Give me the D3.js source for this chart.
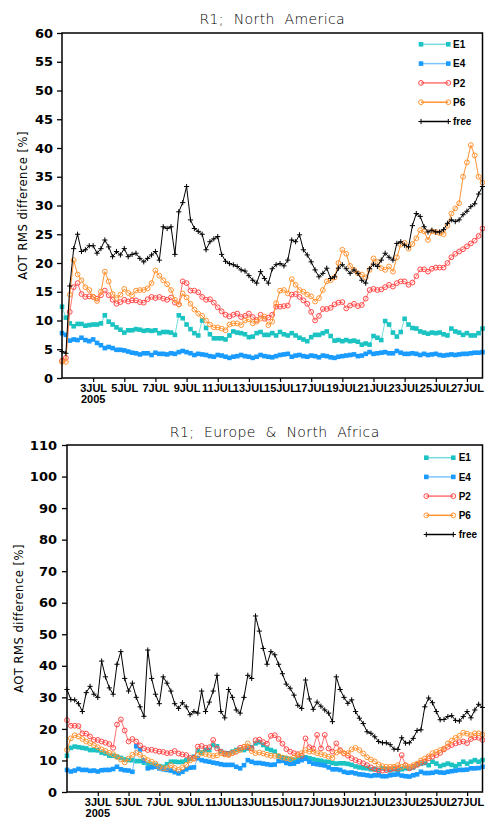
<!DOCTYPE html>
<html><head><meta charset="utf-8">
<script src="https://cdn.jsdelivr.net/npm/d3@7"></script>
<style>body{margin:0;background:#fff}svg{display:block}</style>
</head><body>
<svg id="c" width="485" height="820"></svg>
<script>
// ---------- DATA ----------
const startDateUTC = "2005-07-01T00:00:00Z";
const stepHours = 6;
const xTickDays = [3,5,7,9,11,13,15,17,19,21,23,25,27];
const xMonthLabel = "JUL";
const xYearLabel = "2005";
const seriesNames = ["E1","E4","P2","P6","free"];

const naTitle = "R1;  North  America";
const naYTicks = [0,5,10,15,20,25,30,35,40,45,50,55,60];
const naE1 = [12.4,10.5,9.5,9,9.4,9.4,9.1,9.2,9.3,9.3,
 9.5,10.9,9.8,9.3,8.8,8.4,7.9,8.3,8.3,8.5,
 8.4,8.2,8.3,8.2,8.3,7.8,8,8,7.9,7.5,
 10.9,10.4,9.3,8.5,7.8,7.4,10,8.7,7.6,6.9,
 6.9,6.9,6.7,7.4,8.1,7.9,7.8,7.6,7.1,7.2,
 7.8,8,7.5,7.5,7.8,7.4,8,7.6,7.4,7.8,
 7.4,7,6.7,6.4,7.1,7.5,7.5,7.8,8.1,7.3,
 6.5,6.6,6.4,6.6,6.4,6.5,6.3,5.8,6,5.8,
 7.3,7,6.6,9.9,9.3,7.9,7.2,8,10.3,9.3,
 8.7,8.6,8.1,7.9,7.7,7.9,7.8,7.9,7.6,7.4,
 8.6,8.1,7.9,7.5,7.8,7.4,7.4,7.8,8.6];
const naE4 = [7.8,7.5,6.5,6.7,6.6,7,6.6,6.4,6.7,6.1,
 5.7,5.2,5.4,5.2,4.9,4.9,4.8,4.6,4.4,4.3,
 4.1,4.3,4.3,4,4.4,4.2,4.2,4.1,4.3,4.2,
 4.5,4.7,4.5,4.3,4,4.2,4.1,4,3.8,3.7,
 4,3.9,3.7,3.5,3.7,3.8,4,3.8,3.7,3.5,
 3.7,4,3.8,3.7,3.6,3.8,4,4.1,4.2,3.7,
 3.9,4,3.8,3.7,3.9,3.8,3.6,3.9,3.8,3.6,
 3.5,3.7,3.8,3.9,4,4.1,3.8,3.9,4.2,4.5,
 4.2,4.3,4.4,4.5,4.3,4.3,4.7,4.4,4.2,4.2,
 4.3,4.2,4,4.2,4,4.1,4.2,4,3.9,4,
 4.1,4,4.1,4.2,4.2,4.3,4.4,4.4,4.5];
const naP2 = [3,3.5,11.5,15.8,16.5,14.6,14.1,14.2,14.1,13.8,
 14.4,15.2,14.4,13.6,12.9,13.2,13.6,13.3,13.5,13.5,
 13.2,13.1,13.7,14.1,13.9,14.1,13.8,13.6,14,13.1,
 12.8,16.8,16.5,15.2,15.2,14.9,14.1,13.6,13.7,13.1,
 12.3,11.6,11,10.7,11,11.2,10.6,10.8,11.2,10.6,
 10.1,11,10.3,10.5,11,12.4,12.4,12.5,12.6,14.5,
 14.6,14.1,13.5,12.9,11.5,10,10.8,12,12,12.2,
 12.8,13.1,13.2,12.1,12.6,12.9,12.5,12.7,13.8,15.3,
 15.5,15.3,15.4,15.8,16.2,15.9,16.5,16.8,16.8,16.2,
 16.6,17.7,18.9,18.9,18.5,19,19.2,19.2,19.2,20,
 21,21.6,22,22.4,22.9,23.4,23.9,24.7,26];
const naP6 = [2.8,2.8,14.5,20.5,18,17,15.8,15.3,14.1,13.4,
 15,18.5,16.8,14.6,13.9,14.5,15.5,14.8,14.4,15.2,
 15.3,15.3,15.6,16.5,18.7,17.8,17,16.3,15.3,13.6,
 12.8,14.7,14,12.9,11.9,11.2,10.8,10,9.3,8.8,
 8.8,8.6,8.3,9.3,9.5,9.5,9.2,10,10.2,9.5,
 9.8,10.3,10.7,9.2,9.8,13,15.2,15.3,14.7,17.2,
 16.2,15.3,15,14.5,14.2,13.3,13.9,15.3,16.8,17,
 17.5,20,22.3,21.6,19.5,18.8,18.2,18,17.5,18.8,
 20.8,20.2,19.1,18.8,19.4,18.5,21,23.2,23.5,22.5,
 23.3,24.3,25.7,25.5,24,25.5,25.4,25.2,25,26.5,
 28.6,29.5,30.4,35,37.5,40.5,38.7,35,34];
const naFree = [4.6,4.3,16,22.5,25,22,22.3,23,23,21.7,
 22.5,24,22.8,21.1,22,21.4,22.5,21.1,21.5,21.7,
 20.8,20.2,20.8,21.4,22,20.5,26.3,26,26.3,21.5,
 28.9,30.5,33.3,27.5,26,25.5,25,22.3,23.7,24.2,
 24.6,21.5,20.3,19.9,19.7,19.4,18.8,18.6,17.8,17,
 16.5,18.5,17.3,16.5,19,19.7,19.9,19.5,20.5,24,
 23.7,24.9,22.3,21.4,20.2,18.8,17.6,18.2,19.1,17.3,
 17.6,19.1,19.7,19,18.2,18.8,18.2,17,16.5,19,
 19.8,19.4,20.5,21.7,21,20.5,23.4,23.7,23.1,22.8,
 26.5,28.6,28.1,26.3,25.4,25.7,25.4,25.4,25.8,26.9,
 27.5,27.2,27.5,28.4,29,29.8,30.3,32,33.3];

const euTitle = "R1;  Europe  &  North  Africa";
const euYTicks = [0,10,20,30,40,50,60,70,80,90,100,110];
const euE1 = [11.5,14,14.4,14.2,14,13.8,13.3,13.3,13.2,12.5,
 12.2,11.5,11.5,11.2,10.8,10.3,10.1,10.1,9.8,9.8,
 9.3,8.9,8.7,8.6,8.2,8,8.8,9.6,9.6,9.5,
 9.6,10,10.5,11.2,13,12.5,13.3,13.3,14.9,14.5,
 12.9,12.3,12.3,12.8,13.3,13.5,13.3,13.8,14.2,15.4,
 15.8,14.9,13.8,13.3,12.8,11.4,11,10.7,10.4,10.1,
 10.4,10.7,11,10.7,10.4,10.1,9.9,9.6,9.5,9.2,
 9,9.1,9.1,8.9,8.6,8.1,7.8,7.6,7.5,7.2,
 7.3,7,7.5,7.2,6.9,7.2,7,7.2,7.5,7.5,
 7.8,8.6,9,9.2,8.5,9.6,9,8.2,8.6,9,
 8.6,8.2,8.8,9.6,9,9.6,10.1,9.6,10.1];
const euE4 = [7,6.5,6.8,7.3,7,7,6.7,6.8,6.5,6.9,
 7,7,7.3,8,7.2,6.9,6.8,6.4,14.5,13.5,
 10,7.5,7.8,8,7.5,7.2,7,6.8,6.3,5.9,
 6.4,7.2,7.7,7.8,10.7,10.1,9.8,9.6,9.3,9.1,
 8.8,8.6,8.6,8.6,8,7.5,8.5,10.1,9.6,9.2,
 9.2,9,8.8,8.6,8.7,9.8,9.9,9.2,8.9,9,
 9.6,10.1,10.5,9.6,9,8.8,8.6,8.4,7.8,7.2,
 7.2,7,6.4,6.1,6.2,5.9,5.6,5.5,5.3,5.1,
 5.3,5.3,5,5,5.3,5.5,5.6,5.2,5,4.9,
 5.3,5.6,6.4,6,6,6.1,6.4,6.2,6.1,6.4,
 6.6,6.8,7,7,7.1,7.5,7.5,7.6,8];
const euP2 = [22.8,21,21,20.9,18.6,18.5,17.6,16.5,16.5,16,
 15.6,15.2,14,21.4,23,19.5,16,16.8,16,14.8,
 13.8,13.3,13.4,13.1,12.8,12.7,12.3,12.4,13,12.2,
 11.9,11.7,10.8,10.8,14.4,14.6,14,14.2,16.5,13.8,
 12.8,12.2,12,12.4,12.8,14,14.3,14.2,13.8,16.4,
 16.6,15.8,15.3,17.8,18,16.8,15.3,13.6,12.8,12.3,
 12,11.5,17,14.2,13.8,18.1,13.8,18.1,13.8,12.8,
 15.4,13.3,12.2,11.5,10.7,10.1,9.6,9.1,8.5,7.8,
 7.2,6.8,6.8,6.9,7.1,7.5,7.4,11.7,8.5,7.5,
 8,8.6,9.3,9.6,10.7,11.2,11.7,12.4,13.5,14.3,
 14.9,15.4,15.8,16,15.5,16.8,17.3,17.2,16.5];
const euP6 = [13.3,17,18,17.6,16.8,16,15.5,14.8,14.2,13.5,
 13,12.4,12,11.1,10.3,9.4,10.6,11.8,12.4,11.8,
 10.8,10.1,9.6,9,8,7.5,7.6,8.5,7.6,7,
 7.8,8.6,10,10.5,11.7,12.3,12,11.7,11.4,11.6,
 12.3,11.9,11.7,12.3,12.8,13.3,14.3,15.4,13,12.3,
 12.5,12.2,11.8,11.5,11.4,11.4,10.9,10.7,10.4,11,
 11.7,12.3,13.3,12.8,12.8,12.3,12,11.7,11.2,10.8,
 12.5,13,12.3,12.3,13.5,14,13.3,12.2,11,10.3,
 9.7,8.7,8.2,8,8,8,8.5,8,8.4,8,
 8.5,9,10,10.6,11.3,12.3,12.7,13.3,13.8,15.4,
 16.3,17.2,17.8,18.8,18.5,18,18.6,18.6,18.2];
const euFree = [32.5,29.3,29.2,28,25.5,31.5,33.5,31,30,41.5,
 36.5,33,31,40.5,44.5,36,32,34.5,30,27,
 24,45,36,31,28,36.5,34.5,32,28,26.5,
 28.3,27,24.5,25.5,25,32,25.5,28.5,32,37,
 25.5,23.5,32.5,30,26,25,30,37,36,55.8,
 51,45.5,40.5,44.5,43.5,40.5,37.5,34.2,32.9,30.7,
 27.5,26.5,35.5,29.5,26.2,28.5,27.2,26,25,22.3,
 36.5,32.5,30,28.1,29.2,25.5,23.4,21.7,19.1,18.6,
 17.5,16,15.6,15.6,15,13.6,13.5,17.2,15.5,15.6,
 17,19.5,19.7,27,29.8,28.3,25.5,22.9,23,23.9,
 24.2,22.7,22.5,23.9,25.5,23.5,26,27.8,26.8];

// ---------- STYLES / LAYOUT ----------
const styles = {
  E1:  {marker:"square", color:"#1cc3c3", line:"#74dcdc"},
  E4:  {marker:"square", color:"#1a9bff", line:"#7cc3ff"},
  P2:  {marker:"circle", color:"#ff4747", line:"#ff7272"},
  P6:  {marker:"circle", color:"#ff9433", line:"#ff9433"},
  free:{marker:"plus",   color:"#000000", line:"#000000"}
};

const charts = [
  {title:naTitle, titleY:24, yMax:60, yTicks:naYTicks, pad:4,
   box:{l:62, r:482.5, t:33, b:378}, labelX:27,
   legend:{x1:421, x2:448.3, tx:453, y0:44.3, dy:19.3},
   data:{E1:naE1, E4:naE4, P2:naP2, P6:naP6, free:naFree}},
  {title:euTitle, titleY:436.5, yMax:110, yTicks:euYTicks, pad:5,
   box:{l:67, r:482.5, t:445, b:792}, labelX:23,
   legend:{x1:426.3, x2:453.3, tx:458.7, y0:457.7, dy:19.2},
   data:{E1:euE1, E4:euE4, P2:euP2, P6:euP6, free:euFree}}
];

const svg = d3.select("#c");
svg.append("rect").attr("width",485).attr("height",820).attr("fill","#fff");

const t0 = new Date(startDateUTC);
const tAt = i => new Date(t0.getTime() + i*stepHours*3600e3);
const dayDate = d => new Date(Date.UTC(2005, 6, d));

function drawMarker(g, kind, color, px, py){
  if(kind==="square"){
    g.append("rect").attr("x",px-2.3).attr("y",py-2.3).attr("width",4.6).attr("height",4.6)
     .attr("fill",color);
  } else if(kind==="circle"){
    g.append("circle").attr("cx",px).attr("cy",py).attr("r",2.4)
     .attr("fill","none").attr("stroke",color).attr("stroke-width",1);
  } else {
    g.append("path").attr("d",`M${px-2.6},${py}h5.2M${px},${py-2.6}v5.2`)
     .attr("stroke",color).attr("stroke-width",1).attr("fill","none");
  }
}

charts.forEach(c=>{
  const {l,r,t,b} = c.box;
  const x = d3.scaleUtc().domain([dayDate(1), dayDate(28)]).range([l, r]);
  const y = d3.scaleLinear().domain([0, c.yMax]).range([b, t]);
  const g = svg.append("g");

  seriesNames.forEach(name=>{
    const st = styles[name];
    const pts = c.data[name].map((v,i)=>({t:tAt(i), v}));
    const line = d3.line().x(d=>x(d.t)).y(d=>y(d.v));
    const sg = g.append("g");
    sg.append("path").attr("d", line(pts)).attr("fill","none")
      .attr("stroke", st.line).attr("stroke-width",1);
    pts.forEach(d=>drawMarker(sg, st.marker, st.color, x(d.t), y(d.v)));
  });

  const ya = g.append("g").attr("transform",`translate(${l},0)`)
    .call(d3.axisLeft(y).tickValues(c.yTicks).tickSize(5).tickPadding(c.pad));
  ya.select(".domain").remove();
  ya.selectAll("line").attr("stroke","#000").attr("stroke-width",1.3);
  ya.selectAll("text").attr("font-family","DejaVu Sans").attr("font-weight","bold")
    .attr("font-size",13).attr("fill","#000");

  const xa = g.append("g").attr("transform",`translate(0,${b})`)
    .call(d3.axisBottom(x).tickValues(xTickDays.map(dayDate)).tickSize(4).tickPadding(2)
      .tickFormat(d=>d.getUTCDate()+xMonthLabel));
  xa.select(".domain").remove();
  xa.selectAll("line").attr("stroke","#000").attr("stroke-width",1.2);
  xa.selectAll("text").attr("font-family","Liberation Sans").attr("font-weight","bold")
    .attr("font-size",11).attr("fill","#000");
  g.append("text").attr("x", x(dayDate(xTickDays[0]))).attr("y", b+24.5)
    .attr("text-anchor","middle").attr("font-family","Liberation Sans").attr("font-weight","bold")
    .attr("font-size",11).text(xYearLabel);

  g.append("rect").attr("x",l).attr("y",t).attr("width",r-l).attr("height",b-t)
    .attr("fill","none").attr("stroke","#000").attr("stroke-width",1.5);

  g.append("text").attr("x",(l+r)/2).attr("y",c.titleY).attr("text-anchor","middle")
    .attr("font-family","DejaVu Sans").attr("font-weight",300).attr("font-size",14)
    .attr("letter-spacing",0.4).attr("xml:space","preserve").style("white-space","pre")
    .attr("fill","#000").text(c.title);

  g.append("text").attr("transform",`translate(${c.labelX},${(t+b)/2}) rotate(-90)`)
    .attr("text-anchor","middle").attr("font-family","DejaVu Sans").attr("font-size",11.5)
    .attr("letter-spacing",0.5).attr("fill","#000").text("AOT RMS difference [%]");

  const L = c.legend;
  seriesNames.forEach((name,k)=>{
    const st = styles[name];
    const yy = L.y0 + k*L.dy;
    g.append("line").attr("x1",L.x1).attr("x2",L.x2).attr("y1",yy).attr("y2",yy)
      .attr("stroke",st.line).attr("stroke-width",1.5);
    drawMarker(g, st.marker, st.color, L.x1, yy);
    drawMarker(g, st.marker, st.color, L.x2, yy);
    g.append("text").attr("x",L.tx).attr("y",yy+3.6).attr("font-family","Liberation Sans")
      .attr("font-weight","bold").attr("font-size",10).attr("fill","#000").text(name);
  });
});
</script>
</body></html>
